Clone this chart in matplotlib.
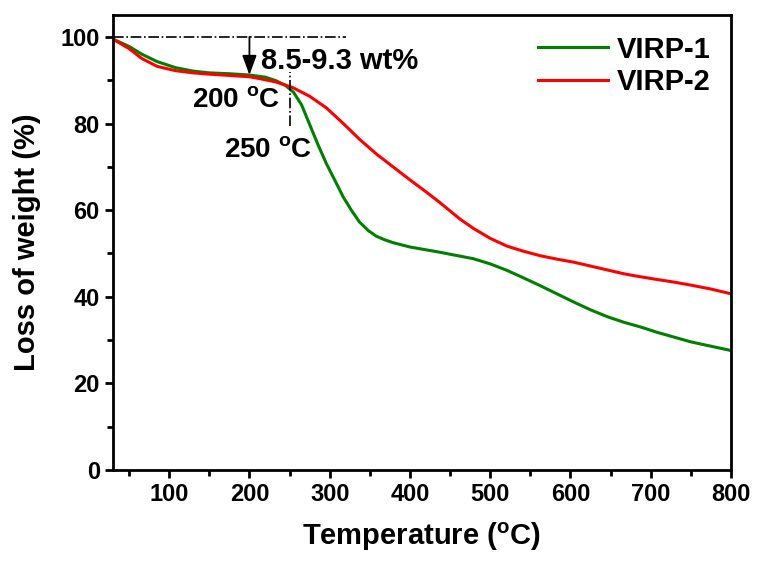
import numpy as np
import matplotlib
matplotlib.use("Agg")
import matplotlib.pyplot as plt
from matplotlib.ticker import MultipleLocator

plt.rcParams["font.family"] = ["Liberation Sans", "DejaVu Sans"]
plt.rcParams["font.weight"] = "bold"
plt.rcParams["mathtext.fontset"] = "custom"
plt.rcParams["mathtext.rm"] = "Liberation Sans:bold"
plt.rcParams["mathtext.bf"] = "Liberation Sans:bold"

# VIRP-1 (green)
temp_1 = [30, 50, 66, 85, 108, 130, 150, 175, 200, 220, 233, 245, 255, 265,
          275, 285, 296, 307, 317, 327, 337, 348, 358, 368, 379, 400, 437,
          462, 479, 500, 521, 540, 562, 583, 604, 625, 646, 667, 688, 708,
          729, 750, 775, 800]
weight_1 = [99.5, 97.8, 96.0, 94.3, 92.9, 92.1, 91.7, 91.5, 91.2, 90.7, 89.9,
            88.8, 87.2, 84.3, 79.8, 75.3, 70.7, 66.7, 63.0, 60.0, 57.3, 55.3,
            54.0, 53.2, 52.5, 51.5, 50.3, 49.4, 48.8, 47.6, 46.1, 44.5, 42.6,
            40.7, 38.8, 37.0, 35.4, 34.1, 33.0, 31.8, 30.7, 29.6, 28.6, 27.6]

# VIRP-2 (red)
temp_2 = [30, 50, 66, 85, 108, 130, 150, 175, 200, 212, 233, 254, 275, 296,
          317, 337, 358, 379, 400, 421, 437, 462, 479, 500, 521, 540, 562,
          583, 604, 625, 646, 667, 688, 708, 729, 750, 775, 800]
weight_2 = [99.5, 97.3, 95.0, 93.2, 92.2, 91.7, 91.4, 91.1, 90.8, 90.4, 89.6,
            88.3, 86.3, 83.6, 80.0, 76.4, 73.0, 70.0, 67.0, 64.1, 61.8, 58.0,
            55.8, 53.5, 51.7, 50.6, 49.5, 48.7, 48.0, 47.1, 46.2, 45.3, 44.6,
            44.0, 43.4, 42.7, 41.8, 40.7]

labels = ["VIRP-1", "VIRP-2"]

fig = plt.figure(figsize=(7.61, 5.65), dpi=100)
ax = fig.add_axes([0.1485, 0.168, 0.812, 0.805])

ax.plot(temp_1, weight_1, color="#008000", linewidth=2.2, label=labels[0],
        solid_joinstyle="round")
ax.plot(temp_2, weight_2, color="#ff0000", linewidth=2.2, label=labels[1],
        solid_joinstyle="round")

# annotations
ax.plot([30, 320], [100, 100], color="black", linestyle="-.", linewidth=1.2)
ax.plot([250, 250], [79.5, 92], color="black", linestyle="-.", linewidth=1.2)
ax.annotate("", xy=(200, 91.2), xytext=(200, 100),
            arrowprops=dict(arrowstyle="-|>,head_length=0.6,head_width=0.22",
                            color="black", lw=1.3,
                            mutation_scale=20, shrinkA=0, shrinkB=0))
ax.text(215, 94.5, "8.5-9.3 wt%", fontsize=21, fontweight="bold",
        ha="left", va="center")
ax.text(238, 85.3, r"200 $^{\mathrm{o}}$C", fontsize=20, fontweight="bold",
        ha="right", va="center")
ax.text(278, 73.7, r"250 $^{\mathrm{o}}$C", fontsize=20, fontweight="bold",
        ha="right", va="center")

ax.set_xlim(30, 800)
ax.set_ylim(0, 105)
ax.xaxis.set_major_locator(MultipleLocator(100))
ax.xaxis.set_minor_locator(MultipleLocator(50))
ax.yaxis.set_major_locator(MultipleLocator(20))
ax.yaxis.set_minor_locator(MultipleLocator(10))
ax.tick_params(which="major", direction="out", length=6, width=2, labelsize=17)
ax.tick_params(which="minor", direction="out", length=4, width=2)
for s in ax.spines.values():
    s.set_linewidth(2)

ax.set_xlabel(r"Temperature ($^{\mathrm{o}}$C)", fontsize=21, fontweight="bold",
              labelpad=10)
ax.set_ylabel("Loss of weight (%)", fontsize=21, fontweight="bold",
              labelpad=14)

ax.legend(loc="upper right", frameon=False, fontsize=21, handlelength=2.4,
          labelspacing=0.15, borderaxespad=0.3, handletextpad=0.3)

fig.savefig("out.png", dpi=100)
